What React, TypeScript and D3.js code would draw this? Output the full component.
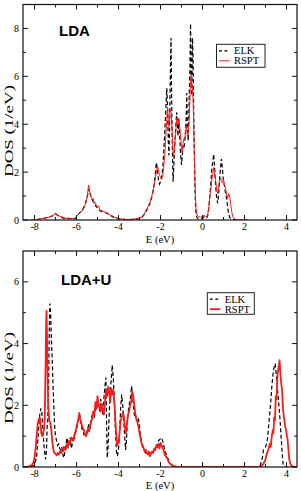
import * as React from "react";
import * as d3 from "d3";

// energies in eV, DOS in states/eV
const ldaElk = [
  [-8.2, 0], [-8.0, 0.0], [-7.8, 0.03], [-7.5, 0.08], [-7.2, 0.15], [-7.0, 0.25], [-6.9, 0.2], [-6.7, 0.1],
  [-6.5, 0.05], [-6.3, 0.06], [-6.1, 0.05], [-6.0, 0.12], [-5.9, 0.25], [-5.8, 0.35], [-5.7, 0.45], [-5.6, 0.65],
  [-5.5, 0.9], [-5.45, 1.15], [-5.4, 1.3], [-5.35, 1.1], [-5.3, 0.95], [-5.2, 0.75], [-5.1, 0.6], [-5.0, 0.5],
  [-4.9, 0.4], [-4.8, 0.35], [-4.7, 0.33], [-4.6, 0.3], [-4.5, 0.25], [-4.4, 0.2], [-4.3, 0.15], [-4.2, 0.1],
  [-4.0, 0.06], [-3.8, 0.03], [-3.6, 0.02], [-3.4, 0.02], [-3.2, 0.03], [-3.0, 0.06], [-2.9, 0.1], [-2.8, 0.2],
  [-2.7, 0.35], [-2.6, 0.5], [-2.5, 0.7], [-2.4, 1.0], [-2.3, 1.5], [-2.25, 1.9], [-2.2, 2.4], [-2.15, 2.1],
  [-2.1, 1.7], [-2.05, 1.5], [-2.0, 1.6], [-1.95, 1.8], [-1.9, 2.1], [-1.85, 2.8], [-1.8, 3.6], [-1.75, 4.6],
  [-1.7, 5.5], [-1.67, 4.8], [-1.63, 3.3], [-1.6, 2.7], [-1.57, 3.8], [-1.53, 6.2], [-1.5, 7.6], [-1.47, 5.0],
  [-1.43, 2.6], [-1.4, 1.6], [-1.37, 2.2], [-1.33, 3.0], [-1.28, 3.8], [-1.23, 4.5], [-1.2, 4.2], [-1.17, 3.5],
  [-1.13, 4.2], [-1.1, 3.8], [-1.05, 2.8], [-1.0, 2.3], [-0.97, 2.6], [-0.93, 3.1], [-0.88, 3.0], [-0.83, 3.4],
  [-0.78, 4.2], [-0.75, 5.3], [-0.72, 3.8], [-0.68, 3.3], [-0.64, 5.0], [-0.6, 6.3], [-0.57, 8.2], [-0.54, 6.0],
  [-0.51, 5.2], [-0.48, 7.6], [-0.45, 6.8], [-0.42, 4.5], [-0.39, 2.8], [-0.36, 1.3], [-0.33, 0.5], [-0.3, 0.2],
  [-0.25, 0.08], [-0.15, 0.05], [0.0, 0.08], [0.1, 0.15], [0.15, 0.12], [0.2, 0.1], [0.25, 0.2], [0.3, 0.5],
  [0.35, 1.0], [0.4, 1.6], [0.45, 2.2], [0.5, 2.5], [0.53, 2.75], [0.57, 2.3], [0.62, 1.5], [0.67, 0.95],
  [0.72, 0.7], [0.77, 1.1], [0.82, 1.8], [0.87, 2.3], [0.9, 2.55], [0.95, 2.1], [1.0, 1.6], [1.05, 1.4],
  [1.1, 1.1], [1.15, 0.9], [1.2, 0.5], [1.25, 0.25], [1.3, 0.1], [1.4, 0.03], [1.6, 0.0], [2.1, 0],
];

const ldaRspt = [
  [-8.15, 0], [-7.9, 0.02], [-7.6, 0.06], [-7.3, 0.12], [-7.1, 0.2], [-7.0, 0.3], [-6.95, 0.22], [-6.85, 0.18],
  [-6.7, 0.12], [-6.6, 0.1], [-6.5, 0.06], [-6.4, 0.09], [-6.3, 0.05], [-6.2, 0.07], [-6.1, 0.06], [-6.0, 0.15],
  [-5.9, 0.25], [-5.8, 0.32], [-5.7, 0.42], [-5.65, 0.5], [-5.6, 0.6], [-5.55, 0.75], [-5.5, 0.95], [-5.45, 1.3],
  [-5.42, 1.45], [-5.38, 1.25], [-5.35, 1.05], [-5.3, 0.95], [-5.25, 0.85], [-5.2, 0.9], [-5.15, 0.7], [-5.1, 0.72],
  [-5.05, 0.58], [-5.0, 0.55], [-4.95, 0.6], [-4.9, 0.45], [-4.85, 0.4], [-4.8, 0.42], [-4.75, 0.35], [-4.7, 0.36],
  [-4.6, 0.3], [-4.5, 0.28], [-4.4, 0.2], [-4.3, 0.18], [-4.2, 0.12], [-4.1, 0.1], [-4.0, 0.05], [-3.8, 0.04],
  [-3.6, 0.02], [-3.4, 0.03], [-3.2, 0.05], [-3.0, 0.08], [-2.9, 0.12], [-2.8, 0.22], [-2.7, 0.38], [-2.6, 0.55],
  [-2.5, 0.75], [-2.4, 1.05], [-2.3, 1.45], [-2.25, 1.75], [-2.2, 2.0], [-2.15, 2.25], [-2.1, 2.1], [-2.05, 1.85],
  [-2.0, 1.8], [-1.95, 1.7], [-1.9, 1.85], [-1.85, 2.2], [-1.8, 2.7], [-1.75, 3.5], [-1.7, 4.2], [-1.67, 4.7],
  [-1.63, 4.2], [-1.6, 3.9], [-1.57, 4.4], [-1.53, 4.6], [-1.5, 4.5], [-1.47, 4.1], [-1.43, 3.4], [-1.4, 2.8],
  [-1.37, 2.6], [-1.33, 3.1], [-1.28, 3.6], [-1.23, 4.2], [-1.2, 4.3], [-1.17, 4.0], [-1.13, 4.25], [-1.1, 4.0],
  [-1.05, 3.6], [-1.0, 3.0], [-0.97, 2.8], [-0.93, 3.2], [-0.88, 3.4], [-0.83, 3.5], [-0.78, 3.9], [-0.75, 3.8],
  [-0.72, 3.5], [-0.68, 3.6], [-0.64, 4.1], [-0.6, 5.0], [-0.57, 5.8], [-0.54, 6.1], [-0.51, 5.5], [-0.48, 5.6],
  [-0.45, 5.0], [-0.42, 4.0], [-0.39, 2.8], [-0.36, 1.7], [-0.33, 0.9], [-0.3, 0.4], [-0.25, 0.2], [-0.2, 0.15],
  [-0.1, 0.12], [0.0, 0.15], [0.05, 0.2], [0.1, 0.18], [0.15, 0.15], [0.2, 0.12], [0.25, 0.25], [0.3, 0.55],
  [0.35, 1.0], [0.4, 1.3], [0.45, 1.7], [0.5, 2.0], [0.53, 2.2], [0.57, 2.0], [0.62, 1.7], [0.67, 1.3],
  [0.72, 1.1], [0.77, 1.4], [0.82, 1.7], [0.87, 1.75], [0.9, 1.6], [0.95, 1.55], [1.0, 1.7], [1.05, 1.45],
  [1.1, 1.3], [1.15, 1.05], [1.2, 0.9], [1.25, 1.1], [1.3, 0.95], [1.35, 0.6], [1.4, 0.3], [1.45, 0.12],
  [1.55, 0.03], [1.7, 0.01], [2.2, 0],
];

const ldauElk = [
  [-8.2, 0], [-8.05, 0.05], [-7.95, 0.2], [-7.9, 0.35], [-7.85, 0.8], [-7.8, 1.3], [-7.75, 1.7], [-7.7, 1.9],
  [-7.65, 1.75], [-7.6, 1.2], [-7.55, 0.7], [-7.5, 0.35], [-7.47, 0.25], [-7.43, 0.6], [-7.4, 1.3], [-7.37, 1.5],
  [-7.33, 2.7], [-7.3, 4.4], [-7.27, 5.3], [-7.23, 4.9], [-7.2, 4.2], [-7.15, 3.3], [-7.1, 2.3], [-7.05, 1.4],
  [-7.0, 1.0], [-6.95, 0.85], [-6.9, 0.7], [-6.85, 0.75], [-6.8, 0.6], [-6.75, 0.55], [-6.7, 0.65], [-6.65, 0.4],
  [-6.6, 0.3], [-6.55, 0.5], [-6.5, 0.75], [-6.45, 0.95], [-6.4, 0.6], [-6.35, 0.8], [-6.3, 0.95], [-6.25, 0.6],
  [-6.2, 0.75], [-6.15, 1.0], [-6.1, 0.9], [-6.05, 1.1], [-6.0, 1.2], [-5.95, 1.4], [-5.9, 1.6], [-5.85, 1.7],
  [-5.8, 1.45], [-5.75, 1.25], [-5.7, 1.2], [-5.65, 1.05], [-5.6, 1.1], [-5.55, 1.05], [-5.5, 1.15], [-5.45, 1.3],
  [-5.4, 1.4], [-5.35, 1.25], [-5.3, 1.55], [-5.25, 1.7], [-5.2, 1.8], [-5.15, 1.6], [-5.1, 2.0], [-5.05, 1.85],
  [-5.0, 2.1], [-4.95, 1.95], [-4.9, 1.8], [-4.85, 2.2], [-4.8, 2.0], [-4.75, 1.7], [-4.7, 2.2], [-4.65, 2.6],
  [-4.6, 2.9], [-4.57, 1.5], [-4.54, 0.3], [-4.5, 0.6], [-4.45, 1.6], [-4.4, 2.5], [-4.35, 2.8], [-4.3, 3.3],
  [-4.25, 2.9], [-4.2, 2.2], [-4.15, 1.2], [-4.1, 0.5], [-4.05, 0.35], [-4.0, 0.6], [-3.95, 1.1], [-3.9, 1.9],
  [-3.85, 2.35], [-3.8, 2.0], [-3.75, 1.5], [-3.7, 0.9], [-3.66, 0.55], [-3.62, 0.9], [-3.58, 1.5], [-3.52, 1.9],
  [-3.47, 2.1], [-3.42, 2.3], [-3.38, 2.62], [-3.33, 2.3], [-3.28, 1.9], [-3.23, 1.6], [-3.18, 1.65], [-3.12, 1.5],
  [-3.05, 1.55], [-3.0, 1.3], [-2.95, 1.0], [-2.9, 0.8], [-2.85, 0.6], [-2.8, 0.55], [-2.7, 0.45], [-2.6, 0.5],
  [-2.5, 0.4], [-2.4, 0.45], [-2.3, 0.55], [-2.2, 0.65], [-2.1, 0.85], [-2.0, 0.92], [-1.95, 0.95], [-1.9, 0.85],
  [-1.85, 0.7], [-1.8, 0.55], [-1.7, 0.35], [-1.6, 0.2], [-1.5, 0.08], [-1.4, 0.03], [-1.2, 0.0], [2.6, 0],
  [2.75, 0.05], [2.85, 0.3], [2.9, 0.55], [3.0, 0.65], [3.05, 0.75], [3.1, 0.95], [3.17, 1.5], [3.25, 2.1],
  [3.3, 2.6], [3.35, 2.96], [3.4, 3.2], [3.46, 3.35], [3.5, 3.1], [3.55, 2.7], [3.6, 2.3], [3.65, 1.9],
  [3.69, 1.55], [3.74, 1.0], [3.78, 0.6], [3.82, 0.2], [3.85, 0.05], [3.9, 0], [4.5, 0],
];

const ldauRspt = [
  [-8.55, 0], [-8.3, 0.01], [-8.15, 0.05], [-8.05, 0.15], [-8.0, 0.3], [-7.95, 0.6], [-7.9, 1.0], [-7.85, 1.4],
  [-7.8, 1.55], [-7.75, 1.6], [-7.72, 1.45], [-7.68, 1.1], [-7.63, 1.0], [-7.58, 1.15], [-7.55, 1.2], [-7.52, 1.5],
  [-7.5, 2.2], [-7.47, 3.5], [-7.45, 4.6], [-7.43, 5.06], [-7.41, 4.4], [-7.38, 3.0], [-7.35, 2.0], [-7.3, 1.5],
  [-7.25, 1.45], [-7.2, 1.2], [-7.15, 0.8], [-7.1, 0.55], [-7.05, 0.45], [-7.0, 0.42], [-6.95, 0.38], [-6.9, 0.45],
  [-6.85, 0.4], [-6.8, 0.5], [-6.75, 0.45], [-6.7, 0.55], [-6.65, 0.5], [-6.6, 0.65], [-6.55, 0.55], [-6.5, 0.6],
  [-6.45, 0.75], [-6.4, 0.7], [-6.35, 0.85], [-6.3, 0.8], [-6.25, 0.95], [-6.2, 0.9], [-6.15, 0.85], [-6.1, 1.05],
  [-6.05, 1.15], [-6.0, 1.3], [-5.95, 1.45], [-5.9, 1.6], [-5.87, 1.75], [-5.83, 1.55], [-5.8, 1.5], [-5.75, 1.35],
  [-5.7, 1.25], [-5.65, 1.2], [-5.6, 1.05], [-5.55, 1.0], [-5.5, 1.1], [-5.45, 1.25], [-5.4, 1.15], [-5.35, 1.35],
  [-5.3, 1.5], [-5.25, 1.55], [-5.2, 1.8], [-5.15, 1.7], [-5.1, 2.1], [-5.05, 1.9], [-5.0, 2.3], [-4.95, 2.0],
  [-4.9, 1.9], [-4.85, 1.8], [-4.8, 2.05], [-4.75, 1.85], [-4.7, 1.7], [-4.65, 2.05], [-4.6, 2.5], [-4.55, 2.3],
  [-4.5, 2.6], [-4.45, 2.45], [-4.4, 2.1], [-4.35, 2.55], [-4.3, 2.35], [-4.25, 2.5], [-4.2, 2.1], [-4.15, 1.5],
  [-4.1, 0.95], [-4.05, 0.7], [-4.0, 0.8], [-3.95, 1.1], [-3.9, 1.5], [-3.85, 1.6], [-3.8, 1.75], [-3.75, 1.65],
  [-3.7, 1.3], [-3.65, 1.1], [-3.6, 1.4], [-3.55, 1.7], [-3.5, 1.8], [-3.45, 2.0], [-3.4, 2.1], [-3.35, 2.45],
  [-3.3, 2.3], [-3.25, 2.0], [-3.2, 1.7], [-3.15, 1.55], [-3.1, 1.45], [-3.05, 1.3], [-3.0, 1.1], [-2.95, 0.95],
  [-2.9, 0.75], [-2.85, 0.7], [-2.8, 0.6], [-2.75, 0.5], [-2.7, 0.55], [-2.65, 0.45], [-2.6, 0.4], [-2.55, 0.5],
  [-2.5, 0.35], [-2.45, 0.45], [-2.4, 0.5], [-2.35, 0.45], [-2.3, 0.6], [-2.25, 0.55], [-2.2, 0.7], [-2.15, 0.65],
  [-2.1, 0.75], [-2.05, 0.6], [-2.0, 0.78], [-1.95, 0.7], [-1.9, 0.6], [-1.85, 0.55], [-1.8, 0.4], [-1.7, 0.3],
  [-1.6, 0.15], [-1.5, 0.08], [-1.4, 0.04], [-1.25, 0.01], [-1.1, 0], [2.7, 0], [2.8, 0.03], [2.9, 0.1],
  [3.0, 0.25], [3.05, 0.4], [3.1, 0.5], [3.15, 0.6], [3.2, 0.75], [3.25, 0.65], [3.3, 1.0], [3.35, 1.2],
  [3.38, 1.1], [3.41, 1.6], [3.45, 1.5], [3.49, 2.3], [3.53, 2.2], [3.57, 3.0], [3.62, 3.2], [3.67, 3.46],
  [3.71, 3.0], [3.75, 2.7], [3.79, 2.5], [3.83, 1.9], [3.88, 1.6], [3.94, 1.3], [3.98, 1.2], [4.02, 1.0],
  [4.05, 0.9], [4.1, 0.5], [4.13, 0.25], [4.2, 0.08], [4.28, 0.02], [4.4, 0], [4.5, 0],
];

const energyRange = [-8.55, 4.5];
const energyTicks = [-8, -6, -4, -2, 0, 2, 4];
const energyMinorTicks = [-7, -5, -3, -1, 1, 3];
const ldaDosTicks = [0, 2, 4, 6, 8];
const ldaDosMinor = [1, 3, 5, 7];
const ldauDosTicks = [0, 2, 4, 6];
const ldauDosMinor = [1, 3, 5];
const seriesNames = ["ELK", "RSPT"];

const serif = "'Liberation Serif', 'Times New Roman', serif";
const sans = "'Liberation Sans', Arial, sans-serif";

const Panel = ({ top, bottom, yMax, yTicks, yMinor, title, titleY, elk, rspt, redWidth, legend, labelY, xLabelY }) => {
  const left = 23;
  const right = 297;
  const x = d3.scaleLinear().domain(energyRange).range([left, right]);
  const y = d3.scaleLinear().domain([0, yMax]).range([bottom, top]);
  const line = d3
    .line()
    .x((d) => x(d[0]))
    .y((d) => y(d[1]));

  const major = 5;
  const minor = 3;

  return (
    <g>
      <defs>
        <clipPath id={`clip-${title}`}>
          <rect x={left} y={top} width={right - left} height={bottom - top} />
        </clipPath>
      </defs>
      <g clipPath={`url(#clip-${title})`}>
        <path d={line(elk) ?? ""} fill="none" stroke="#000" strokeWidth="1.2" strokeDasharray="4 2.5" />
        <path d={line(rspt) ?? ""} fill="none" stroke="#ff1a1a" strokeWidth={redWidth} strokeLinejoin="round" />
      </g>

      <rect x={left} y={top} width={right - left} height={bottom - top} fill="none" stroke="#111" strokeWidth="1.2" />

      {energyTicks.map((v) => (
        <g key={`xt${v}`}>
          <line x1={x(v)} x2={x(v)} y1={bottom} y2={bottom - major} stroke="#111" />
          <line x1={x(v)} x2={x(v)} y1={top} y2={top + major} stroke="#111" />
          <text x={x(v)} y={bottom + 10} textAnchor="middle" fontFamily={serif} fontSize="10" fill="#000">
            {v < 0 ? `-${Math.abs(v)}` : v}
          </text>
        </g>
      ))}
      {energyMinorTicks.map((v) => (
        <g key={`xm${v}`}>
          <line x1={x(v)} x2={x(v)} y1={bottom} y2={bottom - minor} stroke="#111" />
          <line x1={x(v)} x2={x(v)} y1={top} y2={top + minor} stroke="#111" />
        </g>
      ))}
      {yTicks.map((v) => (
        <g key={`yt${v}`}>
          <line x1={left} x2={left + major} y1={y(v)} y2={y(v)} stroke="#111" />
          <line x1={right} x2={right - major} y1={y(v)} y2={y(v)} stroke="#111" />
          <text x={19} y={y(v) + 3.6} textAnchor="end" fontFamily={serif} fontSize="10" fill="#000">
            {v}
          </text>
        </g>
      ))}
      {yMinor.map((v) => (
        <g key={`ym${v}`}>
          <line x1={left} x2={left + minor} y1={y(v)} y2={y(v)} stroke="#111" />
          <line x1={right} x2={right - minor} y1={y(v)} y2={y(v)} stroke="#111" />
        </g>
      ))}

      <text x={160} y={xLabelY} textAnchor="middle" fontFamily={serif} fontSize="10.5" fill="#000">
        E (eV)
      </text>
      <text
        transform={`translate(13, ${labelY}) rotate(-90)`}
        textAnchor="middle"
        fontFamily={serif}
        fontSize="12"
        textLength="92"
        lengthAdjust="spacingAndGlyphs"
        fill="#000"
      >
        DOS (1/eV)
      </text>

      <text x={title === "LDA" ? 59 : 61} y={titleY} fontFamily={sans} fontWeight="bold" fontSize="15" fill="#000">
        {title}
      </text>

      <g>
        <rect
          x={legend.x}
          y={legend.y}
          width={legend.w}
          height={legend.h}
          fill="#fff"
          stroke="#222"
          strokeWidth="1"
        />
        <line
          x1={legend.x + 2.5}
          x2={legend.x + 13}
          y1={legend.y + 6.5}
          y2={legend.y + 6.5}
          stroke="#000"
          strokeWidth="1.2"
          strokeDasharray="3 2.5"
        />
        <line
          x1={legend.x + 2.5}
          x2={legend.x + 13}
          y1={legend.y + 16.5}
          y2={legend.y + 16.5}
          stroke="#ff1a1a"
          strokeWidth={redWidth}
        />
        <text x={legend.x + 17.5} y={legend.y + 10} fontFamily={serif} fontSize="10.5" fill="#000">
          {seriesNames[0]}
        </text>
        <text x={legend.x + 17.5} y={legend.y + 20} fontFamily={serif} fontSize="10.5" fill="#000">
          {seriesNames[1]}
        </text>
      </g>
    </g>
  );
};

export default function App() {
  return (
    <svg
      width={301}
      height={491}
      viewBox="0 0 301 491"
      style={{ position: "absolute", left: 0, top: 0, background: "#fff", display: "block" }}
    >
      <rect width="301" height="491" fill="#fff" />
      <Panel
        top={4.5}
        bottom={220}
        yMax={9}
        yTicks={ldaDosTicks}
        yMinor={ldaDosMinor}
        title="LDA"
        titleY={36}
        elk={ldaElk}
        rspt={ldaRspt}
        redWidth={1}
        legend={{ x: 216.5, y: 44.3, w: 48.5, h: 23 }}
        labelY={131}
        xLabelY={242.5}
      />
      <Panel
        top={251}
        bottom={467}
        yMax={7}
        yTicks={ldauDosTicks}
        yMinor={ldauDosMinor}
        title="LDA+U"
        titleY={285}
        elk={ldauElk}
        rspt={ldauRspt}
        redWidth={1.8}
        legend={{ x: 207.3, y: 292.7, w: 47, h: 21.6 }}
        labelY={378}
        xLabelY={488.5}
      />
    </svg>
  );
}
